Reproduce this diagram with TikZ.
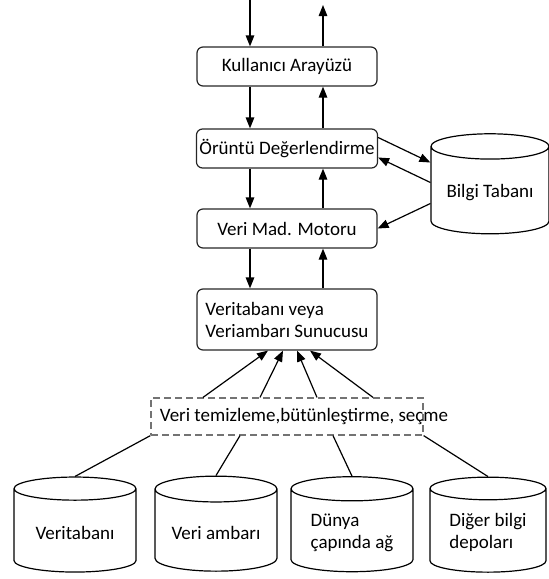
\documentclass[tikz,border=0pt]{standalone}
\usepackage{fontspec}
\setmainfont{Carlito}
\usetikzlibrary{shapes.geometric,arrows.meta}

\tikzset{
  box/.style={draw=black!85, rounded corners=6pt, line width=1.2pt,
    minimum width=180pt, minimum height=39pt, inner sep=3pt},
  store/.style={draw, cylinder, shape border rotate=90, shape aspect=0.27,
    line width=1.2pt, minimum width=122pt, minimum height=95pt, align=left},
  cleanbox/.style={draw=black!55, dash pattern=on 7pt off 4pt, line width=1.2pt,
    minimum width=272pt, minimum height=37pt},
  arr/.style={-{Triangle[length=11pt,width=8.5pt]}, line width=1.2pt}
}

\begin{document}
\begin{tikzpicture}[x=1pt,y=-1pt,font=\fontsize{19}{22}\selectfont]
  \useasboundingbox (0,0) rectangle (549,579);
  \node[box] (ui) at (287,66.5) {Kullanıcı Arayüzü};
  \node[box] (eval) at (287,148.5) {Örüntü Değerlendirme};
  \node[box] (engine) at (287,228.5) {Veri Mad. Motoru};
  \node[box, minimum height=61pt, align=left] (server) at (287,319.5) {Veritabanı veya\\Veriambarı Sunucusu};
  \node[store, minimum width=118pt, minimum height=100pt] (kb) at (490,192.5) {Bilgi Tabanı};
  \node[cleanbox] (clean) at (287,416.5) {};
  \node[anchor=west] (cleantext) at ([xshift=6pt]clean.west) {Veri temizleme,bütünleştirme, seçme};
  \node[store] (db1) at (75,532.5) {Veritabanı};
  \node[store] (db2) at (216,532.5) {Veri ambarı};
  \node[store] (db3) at (352,532.5) {Dünya\\çapında ağ};
  \node[store, minimum width=116pt] (db4) at (488,532.5) {Diğer bilgi\\depoları};
  \coordinate (in) at (250,0);
  \coordinate (out) at (323,5);
  % vertical flow
  \draw[arr] (in) -- ([xshift=-37pt]ui.north);
  \draw[arr] ([xshift=36pt]ui.north) -- (out);
  \draw[arr] ([xshift=-37pt]ui.south) -- ([xshift=-37pt]eval.north);
  \draw[arr] ([xshift=36pt]eval.north) -- ([xshift=36pt]ui.south);
  \draw[arr] ([xshift=-37pt]eval.south) -- ([xshift=-37pt]engine.north);
  \draw[arr] ([xshift=36pt]engine.north) -- ([xshift=36pt]eval.south);
  \draw[arr] ([xshift=-37pt]engine.south) -- ([xshift=-37pt]server.north);
  \draw[arr] ([xshift=36pt]server.north) -- ([xshift=36pt]engine.south);
  % knowledge base
  \draw[arr] ([yshift=11pt]eval.east) -- ([yshift=30pt]kb.west);
  \draw[arr] ([yshift=10pt]kb.west) -- ([yshift=-9pt]eval.east);
  \draw[arr] ([yshift=-11pt]kb.west) -- (engine.east);
  % cleaning to server
  \draw[arr] ([xshift=-84pt]clean.north) -- ([xshift=-19pt]server.south);
  \draw[arr] ([xshift=-27pt]clean.north) -- ([xshift=-4pt]server.south);
  \draw[arr] ([xshift=30pt]clean.north) -- ([xshift=10pt]server.south);
  \draw[arr] ([xshift=86pt]clean.north) -- ([xshift=23pt]server.south);
  % sources
  \draw[line width=1.2pt] (clean.south west) -- (db1.north);
  \draw[line width=1.2pt] ([xshift=-47pt]clean.south) -- (db2.north);
  \draw[line width=1.2pt] ([xshift=46pt]clean.south) -- (db3.north);
  \draw[line width=1.2pt] (clean.south east) -- (db4.north);
\end{tikzpicture}
\end{document}
